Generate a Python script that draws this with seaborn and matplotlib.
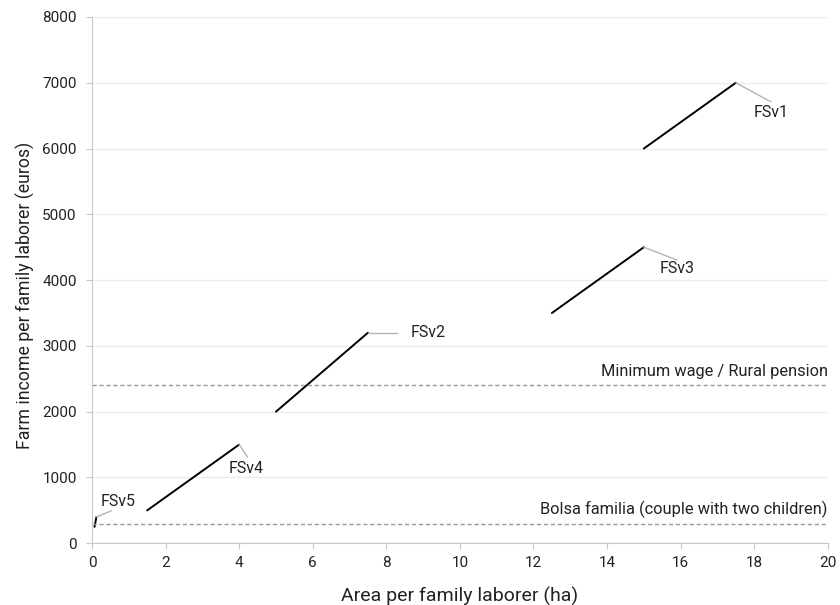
import pandas as pd
import matplotlib.pyplot as plt
import seaborn as sns

# farming system segments (start / end of each line)
systems = ['FSv1', 'FSv2', 'FSv3', 'FSv4', 'FSv5']
x_start = [15, 5, 12.5, 1.5, 0.07]
x_end = [17.5, 7.5, 15, 4, 0.12]
y_start = [6000, 2000, 3500, 500, 250]
y_end = [7000, 3200, 4500, 1500, 400]

# label positions and leader line ends
label_x = [18.45, 8.65, 15.9, 4.2, 0.72]
label_y = [6540, 3200, 4170, 1140, 640]
leader_x = [18.45, 8.3, 15.9, 4.23, 0.53]
leader_y = [6710, 3200, 4305, 1310, 495]

ref_values = [2400, 300]
ref_labels = ['Minimum wage / Rural pension', 'Bolsa familia (couple with two children)']

df = pd.DataFrame({
    'system': systems * 2,
    'x': x_start + x_end,
    'y': y_start + y_end,
})

sns.set_style('white')
plt.rcParams['font.family'] = ['Roboto', 'DejaVu Sans']

fig = plt.figure(figsize=(8.4, 6.05), dpi=100)
ax = fig.add_axes([0.1095, 0.102, 0.876, 0.870])

for i, s in enumerate(systems):
    sns.lineplot(data=df[df.system == s], x='x', y='y', color='black', lw=1.4, ax=ax)
    ax.plot([x_end[i], leader_x[i]], [y_end[i], leader_y[i]], color='#b4b4b4', lw=1)
    ax.text(label_x[i], label_y[i], s, fontsize=11.5, color='#222222',
            ha='center' if i != 1 else 'left', va='center')

for v, lab in zip(ref_values, ref_labels):
    ax.axhline(v, color='#999999', lw=1, ls=(0, (3, 2)))
    ax.text(20, v + 90, lab, ha='right', va='bottom', fontsize=11.8, color='#222222')

ax.set_xlim(0, 20)
ax.set_ylim(0, 8000)
ax.set_xticks(range(0, 21, 2))
ax.set_yticks(range(0, 8001, 1000))
ax.yaxis.grid(True, color='#ececec', lw=1)
ax.set_axisbelow(True)
sns.despine(ax=ax)
for sp in ['left', 'bottom']:
    ax.spines[sp].set_color('#c8c8c8')
ax.tick_params(axis='both', length=4, color='#c8c8c8', labelsize=11, labelcolor='#222222',
               bottom=True, left=True)
ax.tick_params(axis='y', pad=7)
ax.tick_params(axis='x', pad=5)
ax.set_xlabel('Area per family laborer (ha)', fontsize=14, color='#222222', labelpad=12)
ax.set_ylabel('Farm income per family laborer (euros)', fontsize=12.8, color='#222222')
ax.yaxis.set_label_coords(-0.078, 0.471)

fig.savefig('out.png', dpi=100)
